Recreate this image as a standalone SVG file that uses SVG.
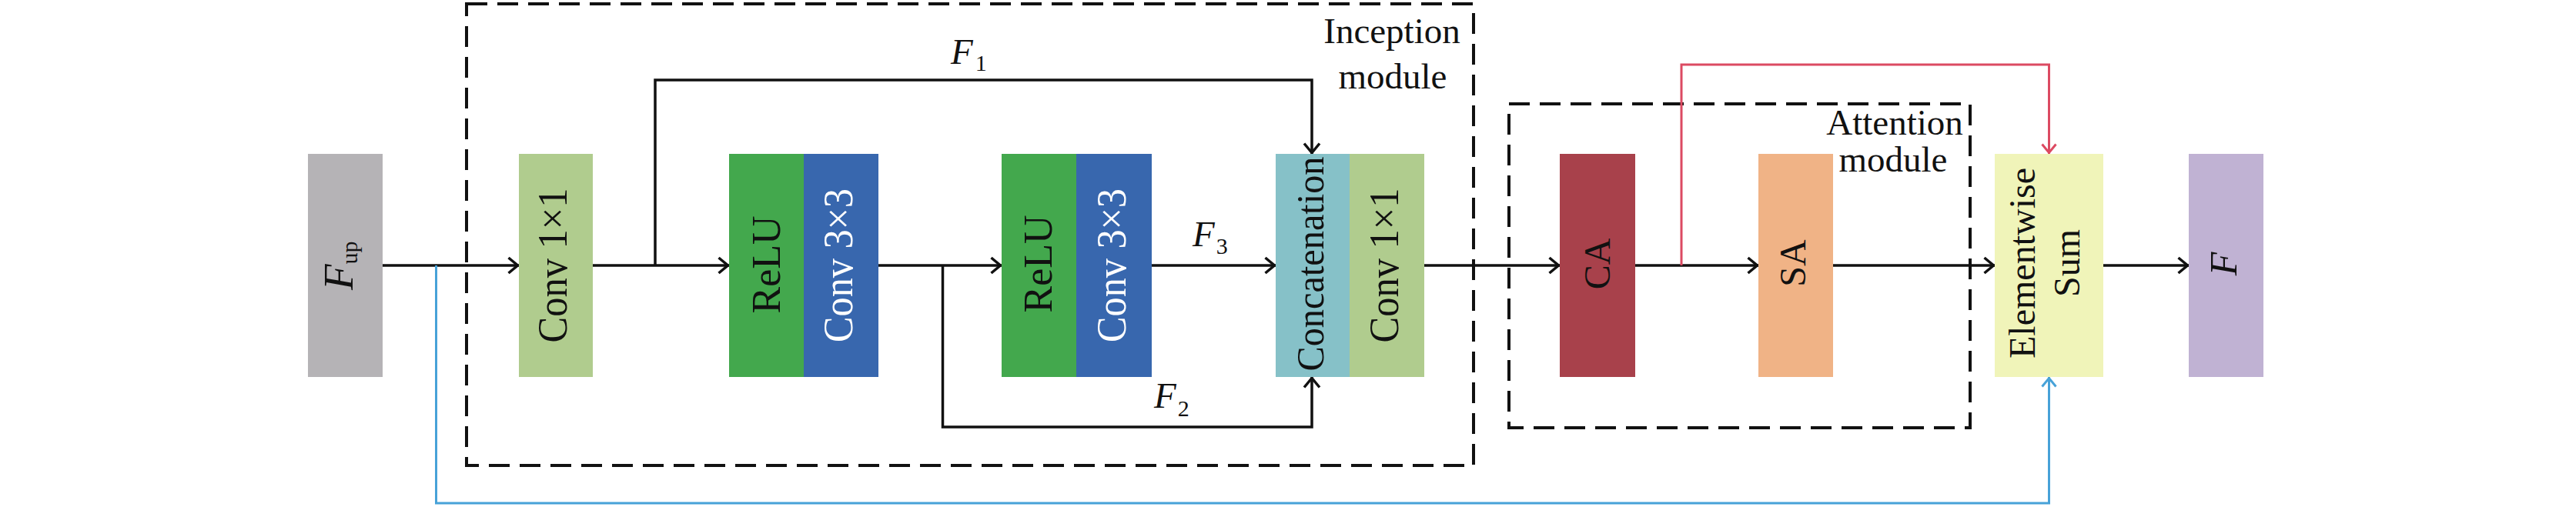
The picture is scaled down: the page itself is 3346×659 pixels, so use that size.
<svg xmlns="http://www.w3.org/2000/svg" width="3346" height="659" viewBox="0 0 3346 659">
<defs>
<style>
.lbl{font-family:"Liberation Serif","Times New Roman",serif;fill:#111;}
.it{font-style:italic;}
.wl{fill:#fff;}
.ln{fill:none;stroke:#111;stroke-width:3.5;}
.red{fill:none;stroke:#dc4a62;stroke-width:3;}
.blu{fill:none;stroke:#47a2d8;stroke-width:3;}
.dash{fill:none;stroke:#111;stroke-width:4;stroke-dasharray:27 13;}
</style>
<marker id="ah" markerUnits="userSpaceOnUse" markerWidth="30" markerHeight="30" viewBox="-15 -15 30 30" refX="1.5" refY="0" orient="auto" overflow="visible">
<path d="M-12,-10 L0,0 L-12,10" fill="none" stroke="#111" stroke-width="3.5"/>
</marker>
<marker id="ahr" markerUnits="userSpaceOnUse" markerWidth="30" markerHeight="30" viewBox="-15 -15 30 30" refX="1.5" refY="0" orient="auto" overflow="visible">
<path d="M-11,-9 L0,0 L-11,9" fill="none" stroke="#dc4a62" stroke-width="3"/>
</marker>
<marker id="ahb" markerUnits="userSpaceOnUse" markerWidth="30" markerHeight="30" viewBox="-15 -15 30 30" refX="1.5" refY="0" orient="auto" overflow="visible">
<path d="M-11,-9 L0,0 L-11,9" fill="none" stroke="#47a2d8" stroke-width="3"/>
</marker>
</defs>
<rect width="3346" height="659" fill="#fff"/>

<g id="inception-module">
<rect class="dash" x="606" y="5" width="1308" height="600"/>
<text class="lbl" x="1808" y="56" font-size="47" text-anchor="middle">Inception</text>
<text class="lbl" x="1809" y="115" font-size="47" text-anchor="middle">module</text>
</g>
<g id="attention-module">
<rect class="dash" x="1960" y="135" width="599" height="421"/>
<text class="lbl" x="2461" y="175" font-size="47" text-anchor="middle">Attention</text>
<text class="lbl" x="2459" y="223" font-size="47" text-anchor="middle">module</text>
</g>

<g id="connectors">
<line class="ln" x1="497" y1="345" x2="674" y2="345" marker-end="url(#ah)"/>
<line class="ln" x1="770" y1="345" x2="947" y2="345" marker-end="url(#ah)"/>
<line class="ln" x1="1141" y1="345" x2="1301" y2="345" marker-end="url(#ah)"/>
<line class="ln" x1="1496" y1="345" x2="1657" y2="345" marker-end="url(#ah)"/>
<line class="ln" x1="1850" y1="345" x2="2026" y2="345" marker-end="url(#ah)"/>
<line class="ln" x1="2124" y1="345" x2="2284" y2="345" marker-end="url(#ah)"/>
<line class="ln" x1="2381" y1="345" x2="2591" y2="345" marker-end="url(#ah)"/>
<line class="ln" x1="2732" y1="345" x2="2843" y2="345" marker-end="url(#ah)"/>
<path class="ln" d="M851,345 V104 H1704 V200" marker-end="url(#ah)"/>
<path class="ln" d="M1224.5,345 V555 H1704 V490" marker-end="url(#ah)"/>
<path class="red" d="M2184,345 V84 H2661.5 V200" marker-end="url(#ahr)"/>
<path class="blu" d="M566.5,345 V654 H2661.5 V490" marker-end="url(#ahb)"/>
<text class="lbl" x="1235" y="83" font-size="47"><tspan class="it">F</tspan><tspan font-size="30" dx="3" dy="9">1</tspan></text>
<text class="lbl" x="1549" y="320" font-size="47"><tspan class="it">F</tspan><tspan font-size="30" dx="2" dy="10">3</tspan></text>
<text class="lbl" x="1499" y="530" font-size="47"><tspan class="it">F</tspan><tspan font-size="30" dx="2" dy="11">2</tspan></text>
</g>

<g id="node-fup">
<rect x="400" y="200" width="97" height="290" fill="#b5b3b6"/>
<text class="lbl" transform="translate(458,377) rotate(-90)" font-size="55"><tspan class="it">F</tspan><tspan font-size="30" dy="6">up</tspan></text>
</g>
<g id="node-conv1">
<rect x="674" y="200" width="96" height="290" fill="#b0cc8e"/>
<text class="lbl" transform="translate(736,345) rotate(-90)" font-size="54" text-anchor="middle" textLength="201" lengthAdjust="spacingAndGlyphs">Conv 1×1</text>
</g>
<g id="node-relu1">
<rect x="947" y="200" width="97" height="290" fill="#43a84d"/>
<text class="lbl" transform="translate(1013,344) rotate(-90)" font-size="52" text-anchor="middle">ReLU</text>
</g>
<g id="node-conv3a">
<rect x="1044" y="200" width="97" height="290" fill="#3867ae"/>
<text class="lbl wl" transform="translate(1107,345) rotate(-90)" font-size="54" text-anchor="middle" textLength="200" lengthAdjust="spacingAndGlyphs">Conv 3×3</text>
</g>
<g id="node-relu2">
<rect x="1301" y="200" width="97" height="290" fill="#43a84d"/>
<text class="lbl" transform="translate(1366,343) rotate(-90)" font-size="52" text-anchor="middle">ReLU</text>
</g>
<g id="node-conv3b">
<rect x="1398" y="200" width="98" height="290" fill="#3867ae"/>
<text class="lbl wl" transform="translate(1462,345) rotate(-90)" font-size="54" text-anchor="middle" textLength="200" lengthAdjust="spacingAndGlyphs">Conv 3×3</text>
</g>
<g id="node-concat">
<rect x="1657" y="200" width="96" height="290" fill="#86c1c8"/>
<text class="lbl" transform="translate(1719,343) rotate(-90)" font-size="50" text-anchor="middle" textLength="279" lengthAdjust="spacingAndGlyphs">Concatenation</text>
</g>
<g id="node-conv1b">
<rect x="1753" y="200" width="97" height="290" fill="#b0cc8e"/>
<text class="lbl" transform="translate(1816,345) rotate(-90)" font-size="54" text-anchor="middle" textLength="201" lengthAdjust="spacingAndGlyphs">Conv 1×1</text>
</g>
<g id="node-ca">
<rect x="2026" y="200" width="98" height="290" fill="#a8414b"/>
<text class="lbl" transform="translate(2091,343) rotate(-90)" font-size="48" text-anchor="middle">CA</text>
</g>
<g id="node-sa">
<rect x="2284" y="200" width="97" height="290" fill="#f0b386"/>
<text class="lbl" transform="translate(2345,342) rotate(-90)" font-size="48" text-anchor="middle">SA</text>
</g>
<g id="node-sum">
<rect x="2591" y="200" width="141" height="290" fill="#f0f4b9"/>
<text class="lbl" transform="translate(2643,342) rotate(-90)" font-size="48" text-anchor="middle">Elementwise</text>
<text class="lbl" transform="translate(2701,342) rotate(-90)" font-size="48" text-anchor="middle">Sum</text>
</g>
<g id="node-f">
<rect x="2843" y="200" width="97" height="290" fill="#c0b2d3"/>
<text class="lbl it" transform="translate(2905,343) rotate(-90)" font-size="50" text-anchor="middle">F</text>
</g>
</svg>
